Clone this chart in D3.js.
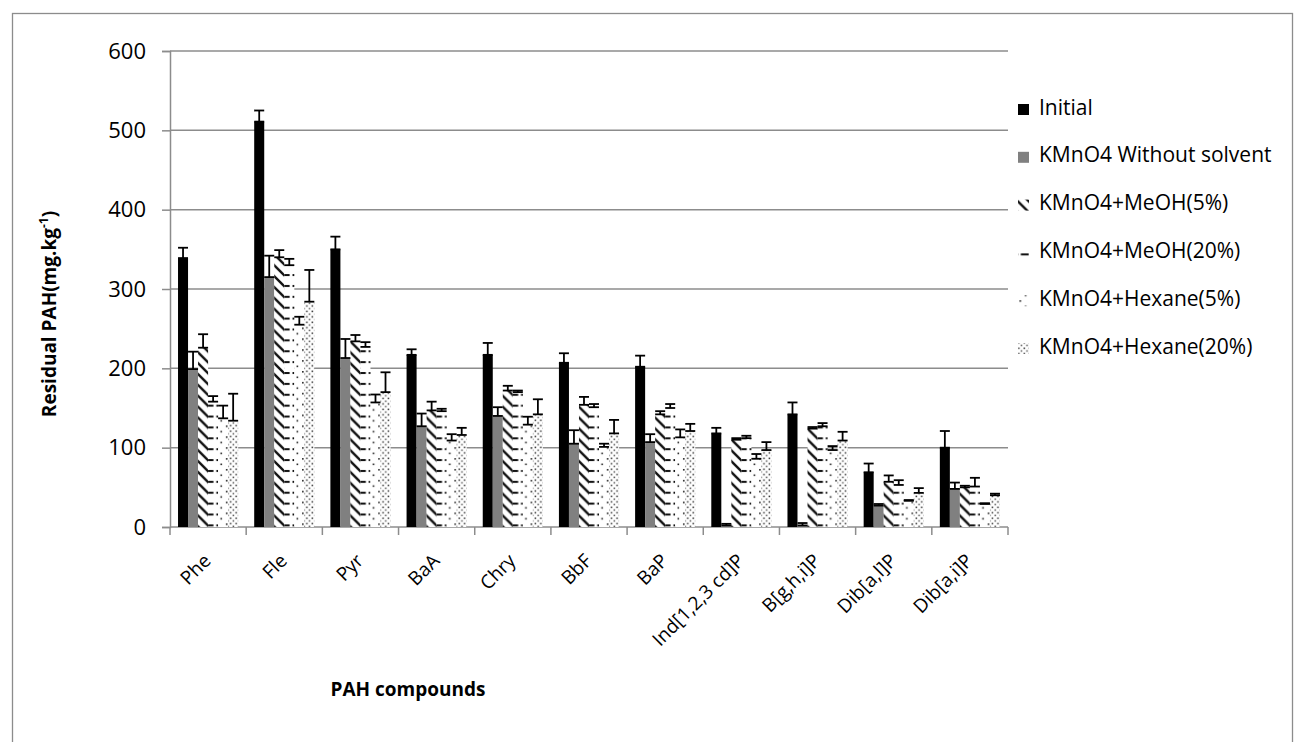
<!DOCTYPE html>
<html>
<head>
<meta charset="utf-8">
<script src="https://cdn.jsdelivr.net/npm/d3@7"></script>
<style>
    body { margin: 0; background: #ffffff; }
    text { font-family: "Open Sans", "Noto Sans", sans-serif; fill: #000; }
</style>
</head>
<body>
<div id="chart"></div>
<script>
// Chart size
var chartWidth = 1297;
var chartHeight = 742;

// Categories (x axis)
var categories = ["Phe", "Fle", "Pyr", "BaA", "Chry", "BbF", "BaP",
    "Ind[1,2,3 cd]P", "B[g,h,i]P", "Dib[a,l]P", "Dib[a,i]P"];

// Series names (legend)
var seriesNames = ["Initial", "KMnO4 Without solvent", "KMnO4+MeOH(5%)",
    "KMnO4+MeOH(20%)", "KMnO4+Hexane(5%)", "KMnO4+Hexane(20%)"];

// Series values
var initialValues = [339, 511, 350, 217, 217, 207, 202, 118, 142, 69, 100];
var noSolventValues = [199, 315, 213, 127, 140, 105, 107, 2, 2, 27, 48];
var meoh5Values = [226, 340, 234, 147, 172, 154, 142, 110, 124, 57, 50];
var meoh20Values = [158, 330, 227, 146, 170, 151, 150, 112, 127, 53, 51];
var hexane5Values = [137, 255, 157, 109, 129, 101, 113, 86, 97, 33, 29];
var hexane20Values = [134, 284, 170, 116, 142, 118, 121, 97, 109, 43, 40];

// Error bar sizes (plus direction)
var initialErrors = [13, 14, 16, 7, 15, 12, 14, 7, 15, 11, 21];
var noSolventErrors = [22, 27, 24, 16, 11, 17, 10, 2, 3, 2, 8];
var meoh5Errors = [17, 9, 8, 11, 6, 10, 4, 2, 2, 8, 2];
var meoh20Errors = [7, 8, 6, 3, 2, 4, 5, 3, 4, 6, 11];
var hexane5Errors = [16, 10, 10, 8, 10, 4, 10, 6, 5, 1, 1];
var hexane20Errors = [34, 40, 25, 9, 19, 17, 9, 10, 11, 6, 2];

// Y axis ticks
var yTicks = [0, 100, 200, 300, 400, 500, 600];

var seriesValues = [initialValues, noSolventValues, meoh5Values, meoh20Values, hexane5Values, hexane20Values];
var seriesErrors = [initialErrors, noSolventErrors, meoh5Errors, meoh20Errors, hexane5Errors, hexane20Errors];

// Plot area
var plotLeft = 170, plotRight = 1008, plotTop = 51, plotBottom = 527;
var gridColor = "#8c8c8c";

var svg = d3.select("#chart")
    .append("svg")
    .attr("width", chartWidth)
    .attr("height", chartHeight);

// Outer chart border
svg.append("rect")
    .attr("x", 12.5).attr("y", 13.5)
    .attr("width", 1280).attr("height", 740)
    .attr("fill", "none")
    .attr("stroke", gridColor)
    .attr("stroke-width", 1.3);

// Scales
var x0 = d3.scaleBand().domain(categories).range([plotLeft, plotRight]);
var x1 = d3.scaleBand().domain(d3.range(seriesNames.length))
    .range([0, x0.bandwidth()]).paddingOuter(0.8);
var y = d3.scaleLinear().domain([0, 600]).range([plotBottom, plotTop]);

// Patterns for the hatched series
var defs = svg.append("defs");
var cell = x0.step() / 7;

function patternFor(i, w) {
    return defs.append("pattern")
        .attr("id", "pat" + i)
        .attr("patternUnits", "userSpaceOnUse")
        .attr("x", x0(categories[0]) + x1(i))
        .attr("y", 0)
        .attr("width", w)
        .attr("height", w);
}

// wide downward diagonal
var p2 = patternFor(2, cell);
p2.append("rect").attr("width", cell).attr("height", cell).attr("fill", "#fff");
p2.append("path")
    .attr("d", "M0,0L" + cell + "," + cell + "M-2," + (cell - 2) + "L2," + (cell + 2) +
        "M" + (cell - 2) + ",-2L" + (cell + 2) + ",2")
    .attr("stroke", "#111").attr("stroke-width", 2.4);

// dashed horizontal
var p3 = patternFor(3, cell);
p3.append("rect").attr("width", cell).attr("height", cell).attr("fill", "#fff");
p3.append("rect").attr("x", 1.5).attr("y", 2).attr("width", 8).attr("height", 2).attr("fill", "#111");

// sparse dots
var p4 = patternFor(4, cell);
p4.append("rect").attr("width", cell).attr("height", cell).attr("fill", "#fff");
p4.append("rect").attr("x", 1).attr("y", 1).attr("width", 1.6).attr("height", 1.6).attr("fill", "#222");
p4.append("rect").attr("x", 1 + cell / 2).attr("y", 1 + cell / 2).attr("width", 1.6).attr("height", 1.6).attr("fill", "#222");

// denser dots
var half = cell / 2;
var p5 = patternFor(5, half);
p5.append("rect").attr("width", half).attr("height", half).attr("fill", "#fff");
p5.append("rect").attr("x", 0.5).attr("y", 0.5).attr("width", 1.5).attr("height", 1.5).attr("fill", "#333");
p5.append("rect").attr("x", 0.5 + half / 2).attr("y", 0.5 + half / 2).attr("width", 1.5).attr("height", 1.5).attr("fill", "#555");

var fills = ["#000000", "#808080", "url(#pat2)", "url(#pat3)", "url(#pat4)", "url(#pat5)"];

// Gridlines
svg.append("g")
    .selectAll("line")
    .data(yTicks.filter(d => d > 0))
    .enter()
    .append("line")
    .attr("x1", plotLeft).attr("x2", plotRight)
    .attr("y1", d => y(d)).attr("y2", d => y(d))
    .attr("stroke", gridColor).attr("stroke-width", 1.5);

// Y axis
var yAxis = svg.append("g")
    .attr("transform", "translate(" + plotLeft + ",0)")
    .call(d3.axisLeft(y).tickValues(yTicks).tickSize(8).tickPadding(16));
yAxis.selectAll("path, line").attr("stroke", gridColor).attr("stroke-width", 1.5);
yAxis.selectAll("text")
    .style("font-family", "'Open Sans', sans-serif")
    .style("font-size", "22px");

// X axis (ticks between categories)
var xAxis = svg.append("g");
xAxis.append("line")
    .attr("x1", plotLeft).attr("x2", plotRight)
    .attr("y1", plotBottom).attr("y2", plotBottom)
    .attr("stroke", gridColor).attr("stroke-width", 1.5);
xAxis.selectAll("line.tick")
    .data(categories.map(c => x0(c)).concat([plotRight]))
    .enter()
    .append("line")
    .attr("class", "tick")
    .attr("x1", d => d).attr("x2", d => d)
    .attr("y1", plotBottom).attr("y2", plotBottom + 8)
    .attr("stroke", gridColor).attr("stroke-width", 1.5);
xAxis.selectAll("text")
    .data(categories)
    .enter()
    .append("text")
    .attr("transform", d => "translate(" + (x0(d) + x0.bandwidth() / 2 + 4) + ",562) rotate(-45)")
    .attr("text-anchor", "end")
    .style("font-size", "19px")
    .text(d => d);

// Bars
var groups = svg.selectAll("g.cat")
    .data(categories)
    .enter()
    .append("g")
    .attr("class", "cat")
    .attr("transform", d => "translate(" + x0(d) + ",0)");

groups.selectAll("rect")
    .data((d, ci) => seriesValues.map((vals, si) => ({ s: si, v: vals[ci], e: seriesErrors[si][ci] })))
    .enter()
    .append("rect")
    .attr("x", d => x1(d.s))
    .attr("width", x1.bandwidth())
    .attr("y", d => y(d.v))
    .attr("height", d => y(0) - y(d.v))
    .attr("fill", d => fills[d.s]);

// Error bars
var errs = groups.selectAll("g.err")
    .data((d, ci) => seriesValues.map((vals, si) => ({ s: si, v: vals[ci], e: seriesErrors[si][ci] })))
    .enter()
    .append("g")
    .attr("class", "err")
    .attr("stroke", "#000")
    .attr("stroke-width", 1.8);
var cap = 5;
errs.append("line")
    .attr("x1", d => x1(d.s) + x1.bandwidth() / 2).attr("x2", d => x1(d.s) + x1.bandwidth() / 2)
    .attr("y1", d => y(d.v)).attr("y2", d => y(d.v + d.e));
errs.append("line")
    .attr("x1", d => x1(d.s) + x1.bandwidth() / 2 - cap).attr("x2", d => x1(d.s) + x1.bandwidth() / 2 + cap)
    .attr("y1", d => y(d.v + d.e)).attr("y2", d => y(d.v + d.e));
errs.append("line")
    .attr("x1", d => x1(d.s) + x1.bandwidth() / 2 - cap).attr("x2", d => x1(d.s) + x1.bandwidth() / 2 + cap)
    .attr("y1", d => y(d.v)).attr("y2", d => y(d.v));

// Legend
var legend = svg.selectAll("g.legend")
    .data(seriesNames)
    .enter()
    .append("g")
    .attr("class", "legend")
    .attr("transform", (d, i) => "translate(1018," + (108 + i * 47.8) + ")");
legend.append("rect")
    .attr("x", 0).attr("y", -4)
    .attr("width", 11).attr("height", 11)
    .attr("fill", (d, i) => fills[i]);
legend.append("text")
    .attr("x", 21).attr("y", 1)
    .attr("dominant-baseline", "middle")
    .style("font-size", "21px")
    .text(d => d);

// Axis titles
var yTitle = svg.append("text")
    .attr("transform", "translate(56,314) rotate(-90)")
    .attr("text-anchor", "middle")
    .style("font-size", "19px")
    .style("font-weight", "bold");
yTitle.append("tspan").text("Residual PAH(mg.kg");
yTitle.append("tspan").attr("baseline-shift", "super").style("font-size", "12px").text("-1");
yTitle.append("tspan").text(")");

svg.append("text")
    .attr("x", 408).attr("y", 696)
    .attr("text-anchor", "middle")
    .style("font-size", "19px")
    .style("font-weight", "bold")
    .text("PAH compounds");
</script>
</body>
</html>
